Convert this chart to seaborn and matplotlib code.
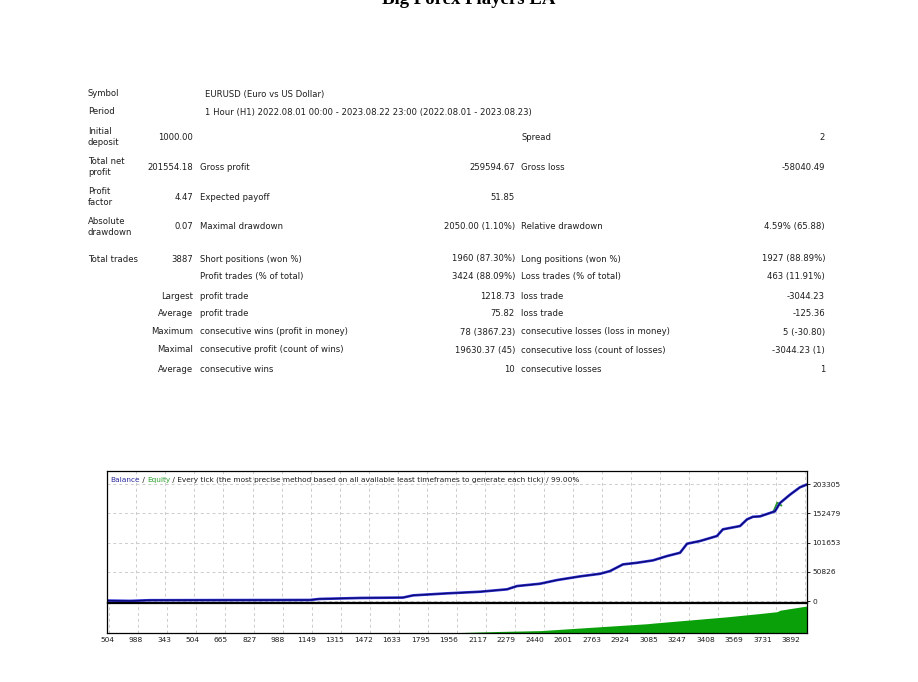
# =========================================================
# STRATEGY TESTER REPORT - Big Forex Players EA
# =========================================================

import numpy as np
import pandas as pd
import matplotlib.pyplot as plt
import seaborn as sns


# =========================================================
# DATA
# =========================================================

TITLE = "Big Forex Players EA"

header_labels = ["Symbol", "Period"]
header_values = [
    "EURUSD (Euro vs US Dollar)",
    "1 Hour (H1) 2022.08.01 00:00 - 2023.08.22 23:00 (2022.08.01 - 2023.08.23)",
]

col0_labels = [
    "Initial\ndeposit", "Total net\nprofit", "Profit\nfactor", "Absolute\ndrawdown",
    "Total trades", "", "", "", "", "", "",
]
col1_values = [
    "1000.00", "201554.18", "4.47", "0.07", "3887", "",
    "Largest", "Average", "Maximum", "Maximal", "Average",
]
col2_labels = [
    "", "Gross profit", "Expected payoff", "Maximal drawdown",
    "Short positions (won %)", "Profit trades (% of total)",
    "profit trade", "profit trade",
    "consecutive wins (profit in money)",
    "consecutive profit (count of wins)",
    "consecutive wins",
]
col3_values = [
    "", "259594.67", "51.85", "2050.00 (1.10%)", "1960 (87.30%)",
    "3424 (88.09%)", "1218.73", "75.82", "78 (3867.23)", "19630.37 (45)", "10",
]
col4_labels = [
    "Spread", "Gross loss", "", "Relative drawdown", "Long positions (won %)",
    "Loss trades (% of total)", "loss trade", "loss trade",
    "consecutive losses (loss in money)",
    "consecutive loss (count of losses)",
    "consecutive losses",
]
col5_values = [
    "2", "-58040.49", "", "4.59% (65.88)", "1927 (88.89%)",
    "463 (11.91%)", "-3044.23", "-125.36", "5 (-30.80)", "-3044.23 (1)", "1",
]

# balance curve (trade number -> balance)
trade_no = [0, 128, 239, 1127, 1180, 1405, 1644, 1699, 1888, 2071, 2221, 2277,
            2404, 2499, 2627, 2738, 2793, 2865, 2943, 3032, 3110, 3182, 3221,
            3293, 3387, 3420, 3515, 3554, 3587, 3626, 3709, 3737, 3793, 3848, 3887]
balance = [1000, 400, 1600, 2000, 3800, 5500, 6200, 10000, 13500, 16300, 20500,
           26200, 30200, 36600, 43000, 47500, 52200, 63800, 66600, 70800, 78300,
           84000, 99700, 104400, 113100, 124700, 130400, 142000, 146500, 147200,
           156000, 170400, 185000, 197700, 202554]

# small equity excursion visible near the end
equity_trade_no = [3700, 3722, 3745]
equity = [155000, 171000, 166000]

# lower panel (lot / load), relative units
load_trade_no = [0, 1849, 2166, 2404, 2738, 2999, 3032, 3443, 3626, 3720, 3737, 3865, 3887]
load = [0.0, 0.0, 0.05, 0.08, 0.21, 0.31, 0.33, 0.54, 0.65, 0.71, 0.76, 0.88, 0.9]

y_ticks = [0, 50826, 101653, 152479, 203305]

x_tick_labels = ["504", "988", "343", "504", "665", "827", "988", "1149", "1315",
                 "1472", "1633", "1795", "1956", "2117", "2279", "2440", "2601",
                 "2763", "2924", "3085", "3247", "3408", "3569", "3731", "3892"]


# =========================================================
# FIGURE
# =========================================================

sns.set_theme(style="white")
plt.rcParams["font.family"] = ["DejaVu Sans"]

W, H = 918, 682
fig = plt.figure(figsize=(W / 100, H / 100), dpi=100)
fig.patch.set_facecolor("white")

TXT = "#1e1e1e"
FS = 6.1
GRID = "#cccccc"


def px(x, y):
    return x / W, 1 - y / H


# title (cut at top edge as in the report)
fig.text(*px(469, 4), TITLE, ha="center", va="baseline",
         family="Liberation Serif", fontweight="bold", fontsize=13.5, color="black")


# =========================================================
# STATS TABLE
# =========================================================

for label, value, y in zip(header_labels, header_values, [94, 112]):
    fig.text(*px(88, y), label, ha="left", va="center", fontsize=FS, color=TXT)
    fig.text(*px(205, y), value, ha="left", va="center", fontsize=FS, color=TXT)

row_y = [137, 167, 197, 227, 259, 277, 296, 314, 332, 350, 369]

for i, y in enumerate(row_y):
    fig.text(*px(88, y), col0_labels[i], ha="left", va="center",
             fontsize=FS, color=TXT, linespacing=1.4)
    fig.text(*px(193, y), col1_values[i], ha="right", va="center", fontsize=FS, color=TXT)
    fig.text(*px(200, y), col2_labels[i], ha="left", va="center", fontsize=FS, color=TXT)
    fig.text(*px(515, y), col3_values[i], ha="right", va="center", fontsize=FS, color=TXT)
    fig.text(*px(521, y), col4_labels[i], ha="left", va="center", fontsize=FS, color=TXT)
    fig.text(*px(825, y), col5_values[i], ha="right", va="center", fontsize=FS, color=TXT)


# =========================================================
# BALANCE CHART
# =========================================================

ax = fig.add_axes([107 / W, 1 - 602 / H, 700 / W, 131 / H])
ax_low = fig.add_axes([107 / W, 1 - 633 / H, 700 / W, 30 / H])

bal_df = pd.DataFrame({"trade": trade_no, "balance": balance})
eq_df = pd.DataFrame({"trade": equity_trade_no, "equity": equity})
load_df = pd.DataFrame({"trade": load_trade_no, "load": load})

grid_pos = np.arange(25) * 161.6
label_pos = -11 + np.arange(25) * 158.7

for a in (ax, ax_low):
    a.set_xlim(0, 3887)
    a.set_xticks(grid_pos, minor=True)
    a.grid(which="minor", axis="x", color=GRID, linestyle=(0, (3, 3)), linewidth=0.7)
    for s in a.spines.values():
        s.set_color("black")
        s.set_linewidth(0.9)

sns.lineplot(data=eq_df, x="trade", y="equity", ax=ax, color="#2a9a2a", linewidth=1.4)
sns.lineplot(data=bal_df, x="trade", y="balance", ax=ax, color="#2f2fd6", linewidth=1.9)
sns.lineplot(data=bal_df, x="trade", y="balance", ax=ax, color="#0a0a70", linewidth=0.9)

ax.set_ylim(-1500, 226000)
ax.set_yticks(y_ticks)
ax.set_yticklabels([str(v) for v in y_ticks])
ax.yaxis.tick_right()
ax.tick_params(axis="y", right=True, length=2, width=0.7, pad=2,
               labelsize=5.4, colors=TXT)
ax.grid(axis="y", color=GRID, linestyle=(0, (3, 3)), linewidth=0.7)
ax.set_xticks([])
ax.tick_params(axis="x", which="minor", length=0)
ax.set_xlabel("")
ax.set_ylabel("")

# legend line at top of the chart
LFS = 5.3
t1 = ax.text(0.005, 0.93, "Balance", transform=ax.transAxes, ha="left", va="center",
             fontsize=LFS, color="#2a2aa0")
t2 = ax.annotate(" / ", xy=(1, 0), xycoords=t1, va="bottom", fontsize=LFS, color=TXT)
t3 = ax.annotate("Equity", xy=(1, 0), xycoords=t2, va="bottom", fontsize=LFS, color="#2aa02a")
ax.annotate(" / Every tick (the most precise method based on all available least "
            "timeframes to generate each tick) / 99.00%",
            xy=(1, 0), xycoords=t3, va="bottom", fontsize=LFS, color=TXT)

# lower panel
ax_low.fill_between(load_df["trade"], 0, load_df["load"], color="#0aa00a", linewidth=0)
ax_low.set_ylim(0, 1)
ax_low.set_yticks([])
ax_low.set_xticks(label_pos)
ax_low.set_xticklabels(x_tick_labels)
ax_low.tick_params(axis="x", which="major", length=0, pad=3, labelsize=5.4, colors=TXT)
ax_low.tick_params(axis="x", which="minor", length=0)

plt.savefig("out.png", dpi=100)
plt.close()
